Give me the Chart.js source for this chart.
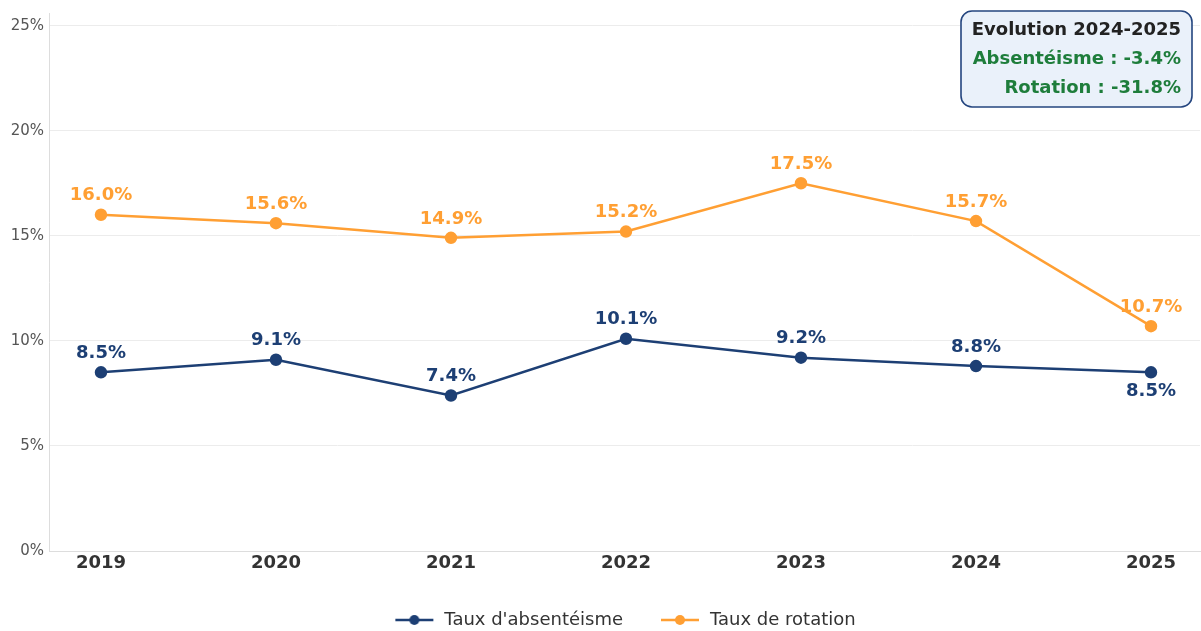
<!DOCTYPE html>
<html><head><meta charset="utf-8">
<script src="https://cdn.jsdelivr.net/npm/chart.js@4/dist/chart.umd.min.js"></script>
<style>html,body{margin:0;padding:0;background:#fff}#wrap{width:1201px;height:631px}</style>
</head><body><div id="wrap"><canvas id="c" width="1201" height="631"></canvas></div>
<script>
const years = [2019, 2020, 2021, 2022, 2023, 2024, 2025];
const absenteeism = [8.5, 9.1, 7.4, 10.1, 9.2, 8.8, 8.5];
const rotation = [16.0, 15.6, 14.9, 15.2, 17.5, 15.7, 10.7];
const absLabelBelow = [false, false, false, false, false, false, true];
const yTicks = [0, 5, 10, 15, 20, 25];
const seriesNames = ["Taux d'absentéisme", "Taux de rotation"];
const boxLines = ["Evolution 2024-2025", "Absentéisme : -3.4%", "Rotation : -31.8%"];

const BLUE = '#1d3f74', ORANGE = '#ff9f33', GREEN = '#1e7d3b';
const FONT = "'DejaVu Sans', sans-serif";

function legendIcon(color) {
  const c = document.createElement('canvas');
  c.width = 40; c.height = 12;
  const g = c.getContext('2d');
  g.strokeStyle = color; g.lineWidth = 2.5;
  g.beginPath(); g.moveTo(1, 6); g.lineTo(39, 6); g.stroke();
  g.fillStyle = color; g.beginPath(); g.arc(20, 6, 5, 0, Math.PI * 2); g.fill();
  return c;
}

const labelPlugin = {
  id: 'valueLabels',
  afterDatasetsDraw(chart) {
    const ctx = chart.ctx;
    ctx.save();
    ctx.font = "bold 18px " + FONT;
    ctx.textAlign = 'center';
    ctx.textBaseline = 'middle';
    chart.data.datasets.forEach((ds, di) => {
      const meta = chart.getDatasetMeta(di);
      meta.data.forEach((pt, i) => {
        const below = di === 0 && absLabelBelow[i];
        ctx.fillStyle = ds.borderColor;
        ctx.fillText(ds.data[i].y.toFixed(1) + '%', pt.x, below ? pt.y + 19 : pt.y - 19);
      });
    });
    ctx.restore();
  }
};

const boxPlugin = {
  id: 'evoBox',
  afterDraw(chart) {
    const ctx = chart.ctx;
    const x = 961, y = 11, w = 231, h = 96, r = 11;
    ctx.save();
    ctx.beginPath();
    ctx.roundRect(x, y, w, h, r);
    ctx.fillStyle = '#eaf1fa';
    ctx.fill();
    ctx.lineWidth = 1.6;
    ctx.strokeStyle = '#24457f';
    ctx.stroke();
    ctx.font = "bold 18px " + FONT;
    ctx.textAlign = 'right';
    ctx.textBaseline = 'middle';
    const ys = [30, 59, 88];
    boxLines.forEach((t, i) => {
      ctx.fillStyle = i === 0 ? '#222222' : GREEN;
      ctx.fillText(t, 1181, ys[i]);
    });
    ctx.restore();
  }
};

new Chart(document.getElementById('c'), {
  type: 'line',
  data: {
    datasets: [
      { label: seriesNames[0], data: years.map((yr, i) => ({ x: yr, y: absenteeism[i] })),
        borderColor: BLUE, backgroundColor: BLUE, borderWidth: 2.5, pointRadius: 5, pointHoverRadius: 5,
        pointStyle: 'circle', tension: 0 },
      { label: seriesNames[1], data: years.map((yr, i) => ({ x: yr, y: rotation[i] })),
        borderColor: ORANGE, backgroundColor: ORANGE, borderWidth: 2.5, pointRadius: 5, pointHoverRadius: 5,
        pointStyle: 'circle', tension: 0 }
    ]
  },
  options: {
    responsive: false,
    animation: false,
    devicePixelRatio: 1,
    layout: { autoPadding: false, padding: { top: 13, right: 1, left: 0, bottom: -8 } },
    scales: {
      x: {
        type: 'linear',
        min: 2018.703, max: 2025.28,
        afterBuildTicks: axis => { axis.ticks = years.map(v => ({ value: v })); },
        afterFit: axis => { axis.paddingLeft = 0; axis.paddingRight = 0; axis.height = 24; },
        ticks: { callback: v => String(v), font: { family: FONT, size: 18, weight: 'bold' }, color: '#333', padding: 2, maxRotation: 0 },
        grid: { display: false, drawTicks: false },
        border: { display: true, color: '#dddddd', width: 1 }
      },
      y: {
        min: 0, max: 25.6,
        afterBuildTicks: axis => { axis.ticks = yTicks.map(v => ({ value: v })); },
        afterFit: axis => { axis.paddingTop = 0; axis.paddingBottom = 0; axis.width = 49; },
        ticks: { callback: v => v + '%', font: { family: FONT, size: 15 }, color: '#555', padding: 5 },
        grid: { color: '#ececec', lineWidth: 1, drawTicks: false },
        border: { display: true, color: '#dddddd', width: 1 }
      }
    },
    plugins: {
      legend: {
        position: 'bottom',
        fullSize: false,
        labels: {
          usePointStyle: true,
          pointStyle: 'circle',
          pointStyleWidth: 42,
          boxHeight: 12,
          padding: 36,
          font: { family: FONT, size: 18 },
          color: '#333',
          generateLabels: chart => chart.data.datasets.map((ds, i) => ({
            text: ds.label, pointStyle: legendIcon(ds.borderColor), fillStyle: ds.borderColor,
            strokeStyle: ds.borderColor, lineWidth: 0, datasetIndex: i, hidden: false, fontColor: '#333'
          }))
        }
      },
      tooltip: { enabled: false }
    }
  },
  plugins: [labelPlugin, boxPlugin]
});
</script></body></html>
